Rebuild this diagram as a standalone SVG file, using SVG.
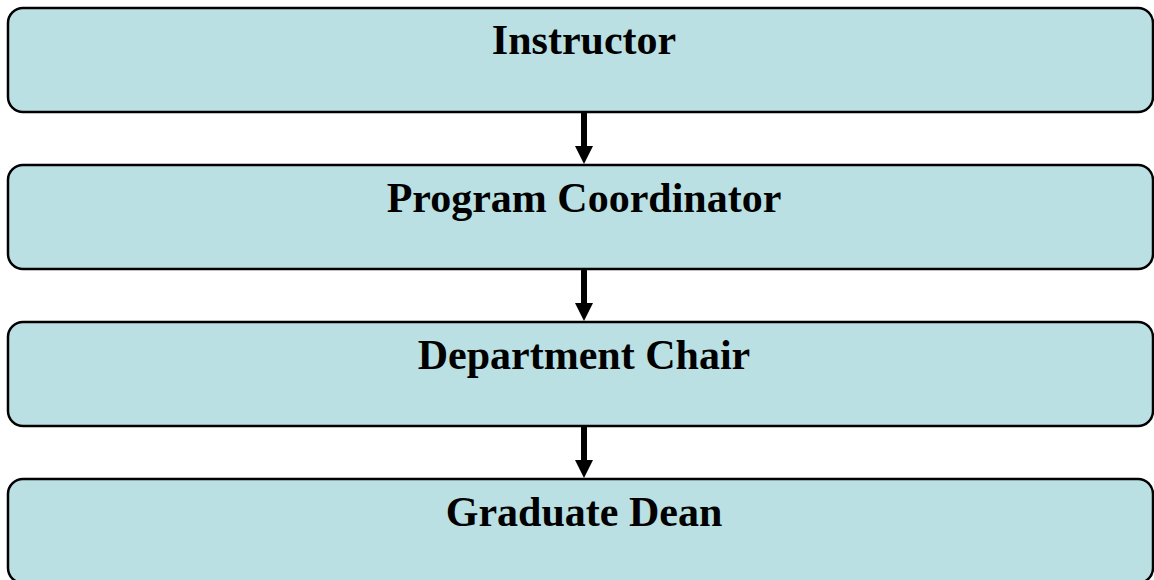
<svg xmlns="http://www.w3.org/2000/svg" width="1154" height="580" viewBox="0 0 1154 580">
<style>
.box{fill:#bae0e3;stroke:#000;stroke-width:2.5}
.lbl{font-family:"Liberation Serif","Times New Roman",serif;font-weight:bold;font-size:42px;fill:#000;text-anchor:middle}
.conn{stroke:#000;stroke-width:6;fill:none}
.head{fill:#000}
</style>
<rect width="1154" height="580" fill="#fff"/>
<g id="node-instructor"><rect class="box" x="8" y="8" width="1145" height="104" rx="15"/><text class="lbl" x="584" y="54">Instructor</text></g>
<g id="node-program-coordinator"><rect class="box" x="8" y="165" width="1145" height="104" rx="15"/><text class="lbl" x="584" y="212">Program Coordinator</text></g>
<g id="node-department-chair"><rect class="box" x="8" y="322" width="1145" height="104" rx="15"/><text class="lbl" x="584" y="369">Department Chair</text></g>
<g id="node-graduate-dean"><rect class="box" x="8" y="479" width="1145" height="104" rx="15"/><text class="lbl" x="584" y="526">Graduate Dean</text></g>
<g id="connectors">
<line class="conn" x1="584" y1="113" x2="584" y2="148"/>
<path class="head" d="M575,146 L593,146 L584,164 Z"/>
<line class="conn" x1="584" y1="270" x2="584" y2="305"/>
<path class="head" d="M575,303 L593,303 L584,321 Z"/>
<line class="conn" x1="584" y1="427" x2="584" y2="462"/>
<path class="head" d="M575,460 L593,460 L584,478 Z"/>
</g>
</svg>
